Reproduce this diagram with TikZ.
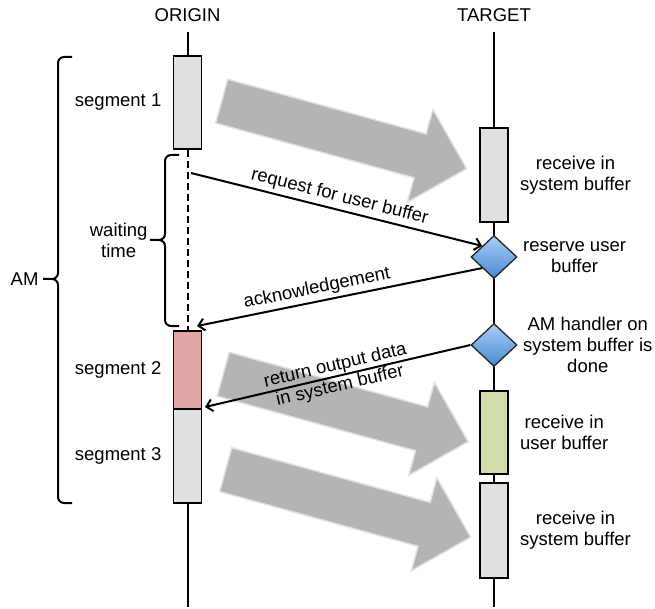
\documentclass[tikz,border=0pt]{standalone}
\usepackage{fontspec}
\setmainfont{Liberation Sans}
\usetikzlibrary{arrows.meta, positioning, shapes.geometric, shapes.arrows}
\usepackage{xcolor}
\definecolor{boxgray}{RGB}{224,224,224}
\definecolor{boxred}{RGB}{226,166,166}
\definecolor{boxgreen}{RGB}{207,222,172}
\definecolor{flowgray}{RGB}{180,180,180}
\definecolor{flowedge}{RGB}{224,224,224}
\definecolor{dtop}{RGB}{170,205,245}
\definecolor{dbot}{RGB}{70,138,212}

\begin{document}
\begin{tikzpicture}[
x=1pt, y=-1pt,
font=\fontsize{18.5}{21}\selectfont,
node distance=8pt,
seg/.style={draw,
line width=1.3pt,
minimum width=28pt,
inner sep=0pt},
event/.style={diamond,
draw=black!85,
line width=1.3pt,
top color=dtop,
bottom color=dbot,
minimum width=46pt,
minimum height=43pt,
inner sep=0pt},
txt/.style={align=center},
life/.style={line width=2pt},
msg/.style={line width=2pt, -{Straight Barb[length=6pt, width=12pt]}},
back/.style={line width=2pt, {Straight Barb[length=6pt, width=12pt]}-},
flow/.style={single arrow,
fill=flowgray,
draw=flowedge,
line width=1.5pt,
minimum height=254pt,
minimum width=95pt,
inner xsep=0pt,
inner ysep=22pt,
single arrow head extend=25.5pt,
rotate=-15.4,
anchor=tail},
bracket/.style={line width=2pt, rounded corners=6pt} ]

\useasboundingbox (0,0) rectangle (655,609);

\node (origin) at (187.5,15) {ORIGIN};
\node (target) at (494,15) {TARGET};
\coordinate (otop) at (187.5,32);
\coordinate (obot) at (187.5,607);
\coordinate (ttop) at (494,32);
\coordinate (tbot) at (494,607);

\draw[life] (ttop) -- (tbot);

% data transfers
\node[flow] (flow1) at (221,101) {};
\node[flow] (flow2) at (222.5,374) {};
\node[flow] (flow3) at (225,469.5) {};

% origin side
\node[seg, fill=boxgray, minimum height=93pt] (seg1) at (187.5,102.5) {};
\node[seg, fill=boxred, minimum height=78pt] (seg2) at (187.5,370) {};
\node[seg, fill=boxgray, minimum height=94pt] (seg3) at (187.5,456) {};

\draw[life] (otop) -- (seg1.north);
\draw[life, dash pattern=on 7pt off 4pt] (seg1.south) -- (seg2.north);
\draw[life] (seg3.south) -- (obot);

\node[left=of seg1] (lbl1) {segment 1};
\node[left=of seg2] (lbl2) {segment 2};
\node[left=of seg3] (lbl3) {segment 3};

% target side
\node[seg, fill=boxgray, minimum height=94pt] (rcv1) at (494,175) {};
\node[event] (rsv) at (494,257) {};
\node[event] (hdone) at (494,345) {};
\node[seg, fill=boxgreen, minimum height=83pt] (rcv2) at (494,432.5) {};
\node[seg, fill=boxgray, minimum height=95pt] (rcv3) at (494,530.5) {};

\node[txt, right=of rcv1] (lbl4) {receive in\\system buffer};
\node[txt, right=2pt of rsv] (lbl5) {reserve user\\buffer};
\node[txt, right=2pt of hdone] (lbl6) {AM handler on\\system buffer is\\done};
\node[txt, right=of rcv2] (lbl7) {receive in\\user buffer};
\node[txt, right=of rcv3] (lbl8) {receive in\\system buffer};

% braces
\draw[bracket] (43,279) -- (58,279) -- (58,57) -- (72,57)
(43,279) -- (58,279) -- (58,503) -- (72,503);
\draw[bracket] (150,240) -- (165,240) -- (165,155) -- (179,155)
(150,240) -- (165,240) -- (165,326) -- (179,326);
\node[anchor=east] (am) at (42,279) {AM};
\node[txt, anchor=east] (wait) at (151,240) {waiting\\time};

% messages
\coordinate (reqstart) at (191,173);
\coordinate (ackend) at (197,326);
\coordinate (retend) at (205,407);

\draw[msg] (reqstart) -- node[sloped, above] {request for user buffer} (rsv.north west);
\draw[back] (ackend) -- node[pos=0.43, sloped, above] {acknowledgement} (rsv.south west);
\draw[back] (retend) -- node[txt, sloped] {return output data\\in system buffer} (hdone.west);

\end{tikzpicture}
\end{document}
